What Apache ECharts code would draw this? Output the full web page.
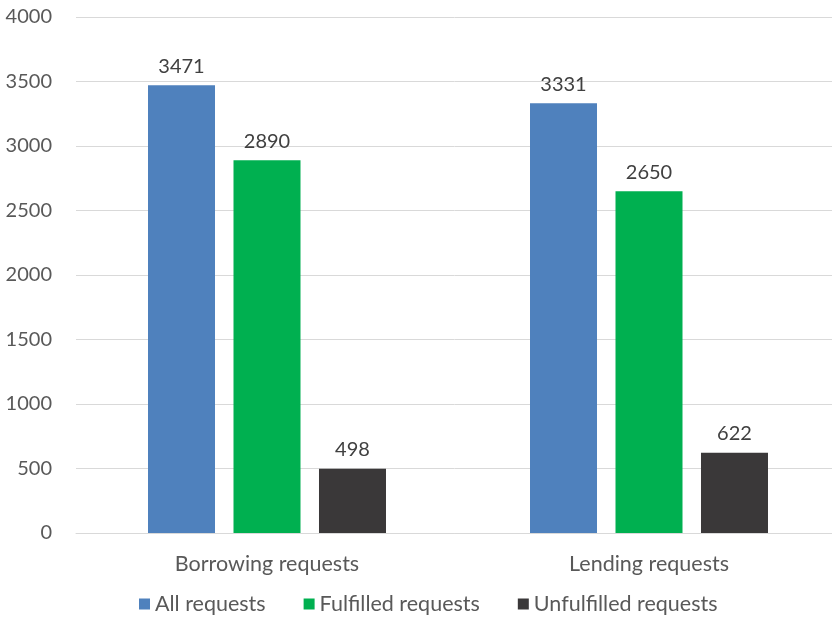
<!DOCTYPE html>
<html>
<head>
<meta charset="utf-8">
<script src="https://cdn.jsdelivr.net/npm/echarts@6/dist/echarts.min.js"></script>
<style>
  html, body { margin: 0; padding: 0; background: #fff; }
  #chart { width: 832px; height: 628px; }
</style>
</head>
<body>
<div id="chart"></div>
<script>
var categories = ['Borrowing requests', 'Lending requests'];
var allRequests = [3471, 3331];
var fulfilled = [2890, 2650];
var unfulfilled = [498, 622];
var seriesNames = ['All requests', 'Fulfilled requests', 'Unfulfilled requests'];
var colors = ['#4F81BD', '#00B050', '#3A3839'];

var labelStyle = {
    show: true,
    position: 'top',
    distance: 9,
    color: '#404040',
    fontSize: 20,
    fontFamily: 'Lato'
};

var myChart = echarts.init(document.getElementById('chart'));
var option = {
    animation: false,
    color: colors,
    textStyle: { fontFamily: 'Lato' },
    grid: {
        left: 76,
        width: 764,
        top: 17,
        bottom: 95,
        outerBoundsMode: 'none'
    },
    legend: {
        bottom: 8,
        left: 134,
        itemWidth: 11,
        itemHeight: 11,
        itemGap: 38,
        icon: 'rect',
        textStyle: { color: '#595959', fontSize: 21.5, fontFamily: 'Lato' },
        data: seriesNames
    },
    xAxis: {
        type: 'category',
        data: categories,
        axisTick: { show: false },
        axisLine: { lineStyle: { color: '#D9D9D9', width: 1 } },
        axisLabel: { color: '#595959', fontSize: 21.5, margin: 20, fontFamily: 'Lato' }
    },
    yAxis: {
        type: 'value',
        min: 0,
        max: 4000,
        interval: 500,
        axisLine: { show: false },
        axisTick: { show: false },
        splitLine: { lineStyle: { color: '#D9D9D9', width: 1 } },
        axisLabel: {
            color: '#595959',
            fontSize: 20,
            margin: 24,
            fontFamily: 'Lato',
            formatter: function (value) {
                return String(value);
            }
        }
    },
    series: [
        {
            name: seriesNames[0],
            type: 'bar',
            data: allRequests,
            barGap: '27.6%',
            barCategoryGap: '37.7%',
            label: labelStyle
        },
        {
            name: seriesNames[1],
            type: 'bar',
            data: fulfilled,
            label: labelStyle
        },
        {
            name: seriesNames[2],
            type: 'bar',
            data: unfulfilled,
            label: labelStyle
        }
    ]
};
myChart.setOption(option);
</script>
</body>
</html>
